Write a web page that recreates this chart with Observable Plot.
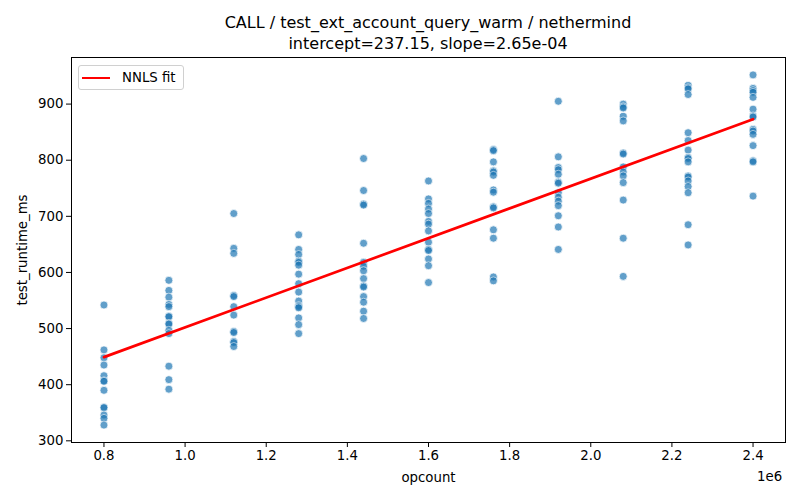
<!DOCTYPE html>
<html>
<head>
<meta charset="utf-8">
<script src="https://cdn.jsdelivr.net/npm/d3@7"></script>
<script src="https://cdn.jsdelivr.net/npm/@observablehq/plot@0.6"></script>
<style>
  body { margin: 0; background: white; font-family: "DejaVu Sans", sans-serif; }
  #wrap { position: relative; width: 800px; height: 500px; }
  #title { margin-left: 71px; width: 714px; text-align: center; font-size: 16px; line-height: 21px; padding-top: 12px; height: 42px; color: #000; }
  #legend { position: absolute; left: 78px; top: 65px; width: 106px; height: 25px; border: 1px solid #d0d0d0; border-radius: 3px; background: rgba(255,255,255,0.8); box-sizing: border-box; }
  #legend .sw { position: absolute; left: 3px; top: 10.5px; width: 28px; height: 2.7px; background: red; }
  #legend .lb { position: absolute; left: 43px; top: 2.5px; font-size: 13.3px; line-height: 18px; }
  #offset { position: absolute; left: 757px; top: 469px; font-size: 13.3px; }
</style>
</head>
<body>
<div id="wrap">
  <div id="title">CALL / test_ext_account_query_warm / nethermind<br>intercept=237.15, slope=2.65e-04</div>
  <div id="chart"></div>
  <div id="legend"><div class="sw"></div><div class="lb">NNLS fit</div></div>
  <div id="offset">1e6</div>
</div>
<script>
const opcounts = [800000, 960000, 1120000, 1280000, 1440000, 1600000, 1760000, 1920000, 2080000, 2240000, 2400000];
const rt_0800k = [542, 462, 448, 435, 416, 407, 406, 390, 360, 359, 346, 340, 328];
const rt_0960k = [586, 568, 556, 543, 539, 522, 521, 509, 508, 497, 491, 433, 409, 392];
const rt_1120k = [705, 643, 634, 559, 557, 539, 524, 495, 493, 477, 475, 468];
const rt_1280k = [667, 641, 632, 620, 618, 613, 597, 580, 565, 549, 541, 539, 537, 519, 507, 491];
const rt_1440k = [803, 746, 722, 720, 652, 618, 611, 603, 589, 576, 574, 557, 547, 531, 518];
const rt_1600k = [763, 731, 723, 713, 705, 691, 686, 674, 654, 641, 639, 624, 612, 582];
const rt_1760k = [819, 817, 797, 781, 779, 773, 747, 743, 717, 715, 676, 661, 592, 585];
const rt_1920k = [905, 806, 787, 783, 775, 761, 759, 742, 734, 727, 719, 701, 681, 641];
const rt_2080k = [900, 895, 893, 878, 870, 813, 811, 788, 779, 772, 760, 729, 661, 593];
const rt_2240k = [933, 929, 927, 917, 849, 835, 818, 805, 803, 797, 772, 770, 763, 753, 742, 685, 649];
const rt_2400k = [952, 928, 924, 921, 912, 891, 879, 877, 855, 852, 846, 826, 799, 797, 736];
const runtimes = [rt_0800k, rt_0960k, rt_1120k, rt_1280k, rt_1440k, rt_1600k, rt_1760k, rt_1920k, rt_2080k, rt_2240k, rt_2400k];

const intercept = 237.15;
const slope = 2.65e-4;

const xTicks = [800000, 1000000, 1200000, 1400000, 1600000, 1800000, 2000000, 2200000, 2400000];
const yTicks = [300, 400, 500, 600, 700, 800, 900];

const points = [];
opcounts.forEach((oc, i) => runtimes[i].forEach(v => points.push({opcount: oc, rt: v})));
const xMin = d3.min(opcounts), xMax = d3.max(opcounts);
const fit = [xMin, xMax].map(x => ({opcount: x, rt: intercept + slope * x}));

const chart = Plot.plot({
  width: 800,
  height: 446,
  marginLeft: 71,
  marginRight: 15,
  marginTop: 3,
  marginBottom: 58,
  x: {domain: [720000, 2480000]},
  y: {domain: [297, 983]},
  style: {fontFamily: "DejaVu Sans", fontSize: "13.3px", color: "#000", background: "white", overflow: "visible"},
  marks: [
    Plot.axisX({ticks: xTicks, tickFormat: d => (d / 1e6).toFixed(1), tickSize: 5, tickPadding: 3,
      label: "opcount", labelAnchor: "center", labelOffset: 39, labelArrow: "none"}),
    Plot.axisY({ticks: yTicks, tickSize: 5, tickPadding: 3,
      label: "test_runtime_ms", labelAnchor: "center", labelOffset: 54, labelArrow: "none"}),
    Plot.dot(points, {x: "opcount", y: "rt", r: 4, fill: "#1f77b4", stroke: "white", strokeWidth: 0.75, opacity: 0.7}),
    Plot.line(fit, {x: "opcount", y: "rt", stroke: "red", strokeWidth: 2.7}),
    Plot.frame({stroke: "black", strokeWidth: 1})
  ]
});
document.getElementById("chart").appendChild(chart);
</script>
</body>
</html>
